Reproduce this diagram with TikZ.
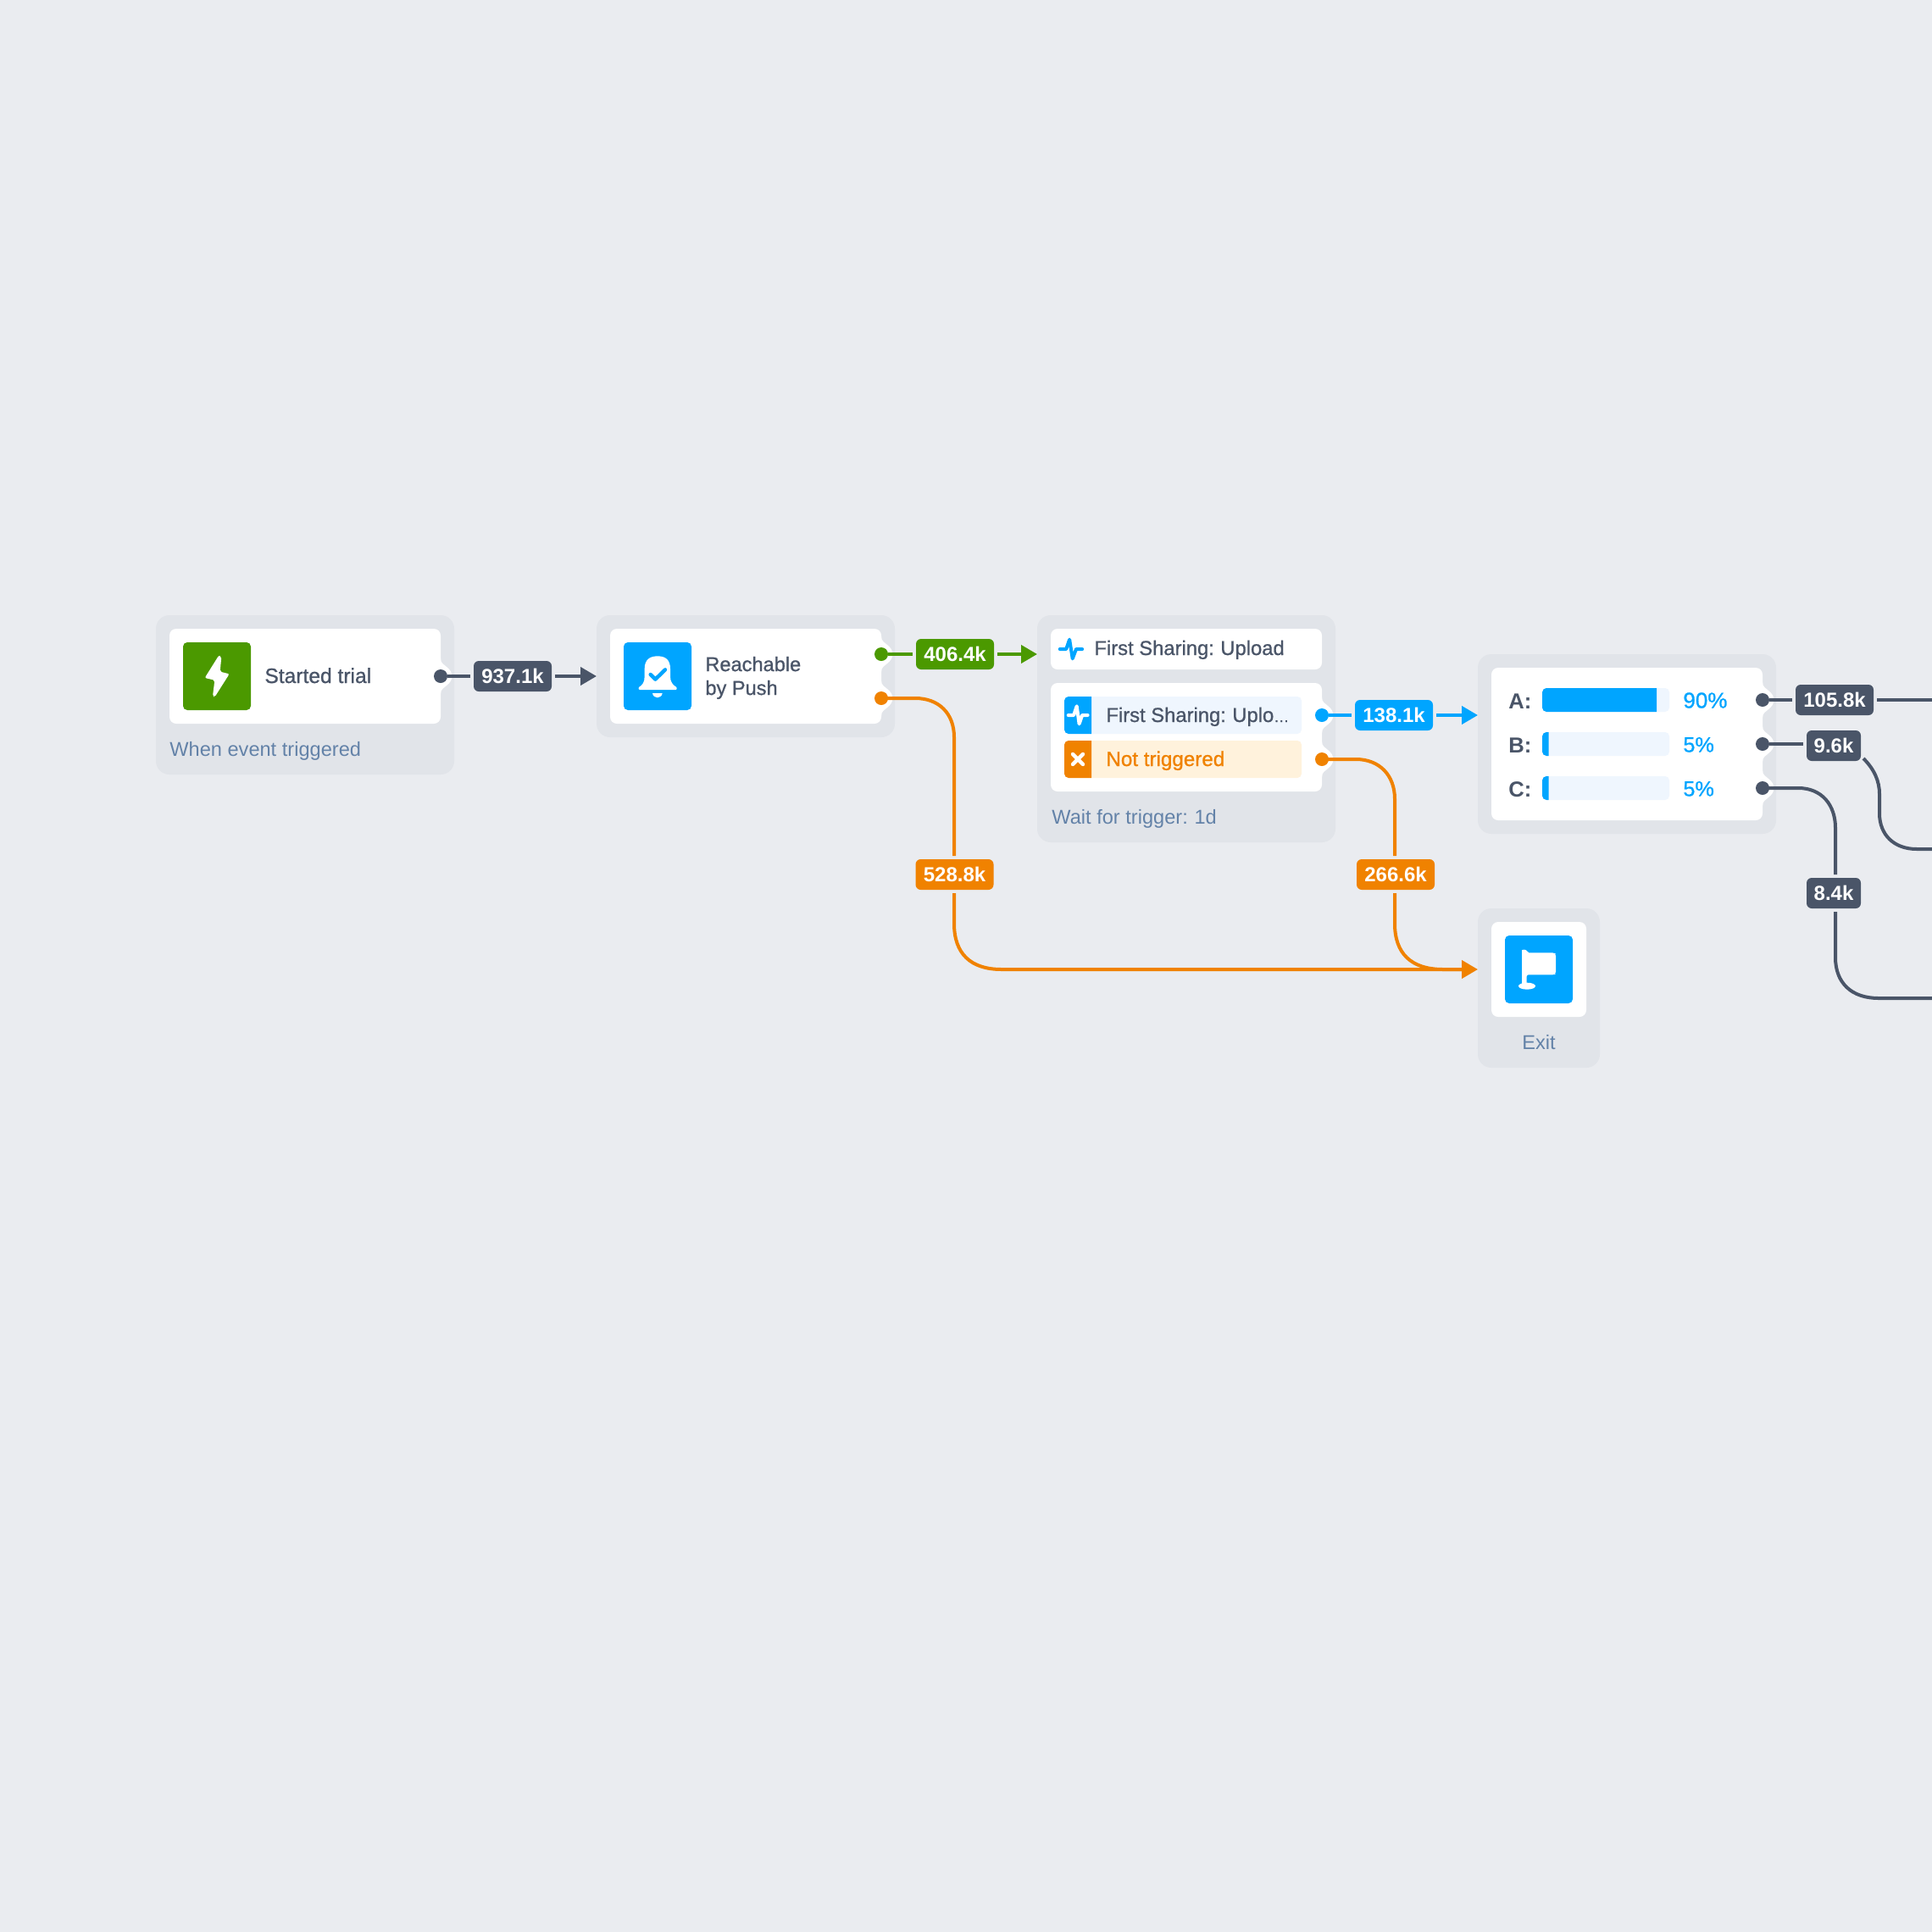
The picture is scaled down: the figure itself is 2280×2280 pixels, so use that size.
\documentclass[tikz,border=0pt]{standalone}
\usepackage{fontspec}
\setmainfont{Liberation Sans}
\newfontfamily\medf[FakeBold=0.9]{Liberation Sans}
\usetikzlibrary{fit,arrows.meta,calc}
\definecolor{bgc}{HTML}{EAECF0}
\definecolor{grpc}{HTML}{E1E4E9}
\definecolor{inkc}{HTML}{4A5568}
\definecolor{subc}{HTML}{6382A8}
\definecolor{greenc}{HTML}{4B9900}
\definecolor{bluec}{HTML}{00A5FF}
\definecolor{orangec}{HTML}{F08200}
\definecolor{tintb}{HTML}{EFF6FE}
\definecolor{tinto}{HTML}{FFF2DC}
\tikzset{
  grp/.style={fill=grpc,rounded corners=8pt,inner sep=0pt,outer sep=0pt},
  card/.style={fill=white,rounded corners=4pt,inner sep=0pt,outer sep=0pt},
  icn/.style={rounded corners=2.5pt,inner sep=0pt,outer sep=0pt},
  tintbar/.style={rounded corners=2.5pt,inner sep=0pt,outer sep=0pt},
  txt/.style={inner sep=0pt,anchor=base west,text=inkc,font=\medf\fontsize{11.9}{14}\selectfont},
  subt/.style={inner sep=0pt,anchor=base west,text=subc,font=\fontsize{11.8}{14}\selectfont},
  lab/.style={rounded corners=3pt,inner sep=0pt,outer sep=2pt,minimum height=18pt,text=white,font=\bfseries\fontsize{12}{14}\selectfont},
  dot/.style={circle,inner sep=0pt,outer sep=0pt,minimum size=8pt},
  wire/.style={line width=2pt},
  arrowed/.style={line width=2pt,-{Triangle[length=9.5pt,width=10.5pt]}},
  glyph/.style={shift={#1},x=0.166667pt,y=-0.166667pt},
  pulse/.style={line width=2pt,line join=round,line cap=round,fill=none}
}
\newcommand{\bump}[2]{\fill[white] (#1,#2-21) .. controls (#1,#2-15) and (#1+4,#2-14) .. (#1+7,#2-11) .. controls (#1+11,#2-8) and (#1+13.5,#2-4) .. (#1+13.5,#2) .. controls (#1+13.5,#2+4) and (#1+11,#2+8) .. (#1+7,#2+11) .. controls (#1+4,#2+14) and (#1,#2+15) .. (#1,#2+21) -- cycle;}
\newcommand{\leftfill}[6]{\fill[#1] (#4,#3) [rounded corners=2.5pt] -- (#2,#3) -- (#2,#5) [sharp corners] -- (#4,#5) -- cycle;}
\begin{document}
\begin{tikzpicture}[x=0.5pt,y=-0.5pt]
\useasboundingbox (0,0) rectangle (2280,2280);
\fill[bgc] (0,0) rectangle (2280,2280);

% groups
\node[grp,fit={(184,726)(536,914)}] (g1) {};
\node[grp,fit={(704,726)(1056,870)}] (g2) {};
\node[grp,fit={(1224,726)(1576,994)}] (g3) {};
\node[grp,fit={(1744,772)(2096,984)}] (g4) {};
\node[grp,fit={(1744,1072)(1888,1260)}] (g5) {};

% cards
\node[card,fit={(200,742)(520,854)}] (c1) {};
\node[card,fit={(720,742)(1040,854)}] (c2) {};
\node[card,fit={(1240,742)(1560,790)}] (c3a) {};
\node[card,fit={(1240,806)(1560,934)}] (c3b) {};
\node[card,fit={(1760,788)(2080,968)}] (c4) {};
\node[card,fit={(1760,1088)(1872,1200)}] (c5) {};

% port bumps
\bump{520}{798}
\bump{1040}{772}
\bump{1040}{824}
\bump{1560}{844}
\bump{1560}{896}
\bump{2080}{826}
\bump{2080}{878}
\bump{2080}{930}

% icons
\node[icn,fill=greenc,fit={(216,758)(296,838)}] (i1) {};
\begin{scope}[glyph={(190,730)}]
\fill[white,rounded corners=1pt] (205,130) -- (214,135) -- (209,188) -- (242,196) -- (190,278) -- (183,275) -- (190,218) -- (155,210) -- cycle;
\end{scope}
\node[icn,fill=bluec,fit={(736,758)(816,838)}] (i2) {};
\begin{scope}[glyph={(710,730)}]
\fill[white] (132,243) .. controls (145,235) and (152,225) .. (152,205) -- (152,178) .. controls (152,146) and (170,133) .. (198,133) .. controls (226,133) and (243,146) .. (243,178) -- (243,205) .. controls (243,225) and (252,235) .. (265,243) .. controls (268,248) and (266,252) .. (262,252) -- (135,252) .. controls (131,252) and (129,248) .. (132,243) -- cycle;
\fill[white] (180,264) -- (215,264) .. controls (212,285) and (183,285) .. (180,264) -- cycle;
\draw[bluec,line width=2.2pt,line join=round,line cap=round] (173,198) -- (190,215) -- (225,181);
\end{scope}
\node[icn,fill=bluec,fit={(1776,1104)(1856,1184)}] (i5) {};
\begin{scope}[glyph={(1745,1075)}]
\fill[white,rounded corners=1pt] (153,145) .. controls (153,136) and (170,136) .. (172,148) -- (268,148) -- (273,153) -- (273,222) -- (268,226) -- (170,226) -- (170,262) -- (153,262) -- cycle;
\fill[white] (171,266) ellipse [x radius=30,y radius=12];
\end{scope}

% pulse in heading
\begin{scope}[glyph={(1210,710)},x=0.17857pt]
\draw[bluec,pulse] (114,168) -- (135,168) -- (146,134) -- (156,202) -- (168,168) -- (188,168);
\end{scope}

% condition rows
\node[tintbar,fill=tintb,fit={(1256,822)(1536,866)}] (r1) {};
\node[tintbar,fill=tinto,fit={(1256,874)(1536,918)}] (r2) {};
\leftfill{bluec}{1256}{822}{1288}{866}{}
\leftfill{orangec}{1256}{874}{1288}{918}{}
\begin{scope}[glyph={(1210,710)},x=0.17857pt]
\draw[white,pulse] (142,402) -- (160,402) -- (170,370) -- (178,433) -- (188,402) -- (206,402);
\end{scope}
\draw[white,line width=2.2pt,line cap=round] (1266,890) -- (1278,902);
\draw[white,line width=2.2pt,line cap=round] (1278,890) -- (1266,902);

% bars
\node[tintbar,fill=tintb,fit={(1820,812)(1970,840)}] (b1) {};
\node[tintbar,fill=tintb,fit={(1820,864)(1970,892)}] (b2) {};
\node[tintbar,fill=tintb,fit={(1820,916)(1970,944)}] (b3) {};
\leftfill{bluec}{1820}{812}{1955}{840}{}
\leftfill{bluec}{1820}{864}{1827.5}{892}{}
\leftfill{bluec}{1820}{916}{1827.5}{944}{}

% texts
\node[txt,font=\medf\fontsize{12.3}{14}\selectfont] (t1) at (312,806) {Started trial};
\node[subt] (s1) at (200,892) {When event triggered};
\node[txt,anchor=west,align=left,text depth=0pt,font=\medf\fontsize{11.8}{14}\selectfont] (t2) at (832,797.5) {Reachable\\by Push};
\node[txt] (t3) at (1291,773) {First Sharing:\hspace{-0.7pt} Upload};
\node[txt] (t4) at (1305,852) {First Sharing:\hspace{-0.7pt} Uplo{\fontsize{9}{14}\selectfont …}};
\node[txt,text=orangec,font=\medf\fontsize{12.1}{14}\selectfont] (t5) at (1305,904) {Not triggered};
\node[subt] (s3) at (1241,972) {Wait for trigger:\hspace{-0.5pt} 1d};
\node[subt,anchor=base] (s5) at (1816,1238) {Exit};
\node[txt,font=\bfseries\fontsize{12.8}{14}\selectfont] (ta) at (1780,836) {A:};
\node[txt,font=\bfseries\fontsize{12.8}{14}\selectfont] (tb) at (1780,888) {B:};
\node[txt,font=\bfseries\fontsize{12.8}{14}\selectfont] (tc) at (1780,940) {C:};
\node[txt,text=bluec,font=\medf\fontsize{13}{14}\selectfont] (pa) at (1986,835.5) {90\%};
\node[txt,text=bluec,font=\medf\fontsize{12.6}{14}\selectfont] (pb) at (1986,887.5) {5\%};
\node[txt,text=bluec,font=\medf\fontsize{12.6}{14}\selectfont] (pc) at (1986,939.5) {5\%};

% ports
\node[dot,fill=inkc] (p1) at (520,798) {};
\node[dot,fill=greenc] (p2a) at (1040,772) {};
\node[dot,fill=orangec] (p2b) at (1040,824) {};
\node[dot,fill=bluec] (p3a) at (1560,844) {};
\node[dot,fill=orangec] (p3b) at (1560,896) {};
\node[dot,fill=inkc] (p4a) at (2080,826) {};
\node[dot,fill=inkc] (p4b) at (2080,878) {};
\node[dot,fill=inkc] (p4c) at (2080,930) {};

% edge labels
\node[lab,fill=inkc,minimum width=46pt] (l1) at (605,798) {937.1k};
\node[lab,fill=greenc,minimum width=46pt] (l2) at (1127,772) {406.4k};
\node[lab,fill=bluec,minimum width=46pt] (l3) at (1645,844) {138.1k};
\node[lab,fill=orangec,minimum width=46pt] (l4) at (1126.5,1032) {528.8k};
\node[lab,fill=orangec,minimum width=46pt] (l5) at (1647,1032) {266.6k};
\node[lab,fill=inkc,minimum width=46pt] (l6) at (2165,826) {105.8k};
\node[lab,fill=inkc,minimum width=32pt] (l7) at (2164,880) {9.6k};
\node[lab,fill=inkc,minimum width=32pt] (l8) at (2164,1054) {8.4k};

% free ends and targets
\coordinate (in2) at (g2.west |- p1);
\coordinate (in3) at (g3.west |- p2a);
\coordinate (in4) at (g4.west |- p3a);
\coordinate (in5) at (1744,1144);
\coordinate (o6) at (2280,826);
\coordinate (o7) at (2199,895);
\coordinate (o7e) at (2280,1002);
\coordinate (o8e) at (2280,1178);

% connectors
\draw[wire,inkc] (p1) -- (l1);
\draw[arrowed,inkc] (l1) -- (in2);
\draw[wire,greenc] (p2a) -- (l2);
\draw[arrowed,greenc] (l2) -- (in3);
\draw[wire,bluec] (p3a) -- (l3);
\draw[arrowed,bluec] (l3) -- (in4);
\draw[wire,orangec] (p2b.center) -- (1080,824) .. controls (1108,824) and (1126,842) .. (1126,870) -- (1126,1010);
\draw[arrowed,orangec] (1126,1054) -- (1126,1090) .. controls (1126,1125) and (1145,1144) .. (1182,1144) -- (in5);
\draw[wire,orangec] (p3b.center) -- (1600,896) .. controls (1628,896) and (1646,915) .. (1646,943) -- (1646,1010);
\draw[wire,orangec] (1646,1054) -- (1646,1090) .. controls (1646,1125) and (1665,1144) .. (1703,1144) -- (1725,1144);
\draw[wire,inkc] (p4a) -- (l6);
\draw[wire,inkc] (l6) -- (o6);
\draw[wire,inkc] (p4b) -- (2128,878);
\draw[wire,inkc] (o7) .. controls (2212,908) and (2218,922) .. (2218,937) -- (2218,960) .. controls (2218,985) and (2235,1002) .. (2262,1002) -- (o7e);
\draw[wire,inkc] (p4c.center) -- (2122,930) .. controls (2150,930) and (2166,950) .. (2166,977) -- (2166,1032);
\draw[wire,inkc] (2166,1076) -- (2166,1130) .. controls (2166,1160) and (2185,1178) .. (2217,1178) -- (o8e);
\end{tikzpicture}
\end{document}
